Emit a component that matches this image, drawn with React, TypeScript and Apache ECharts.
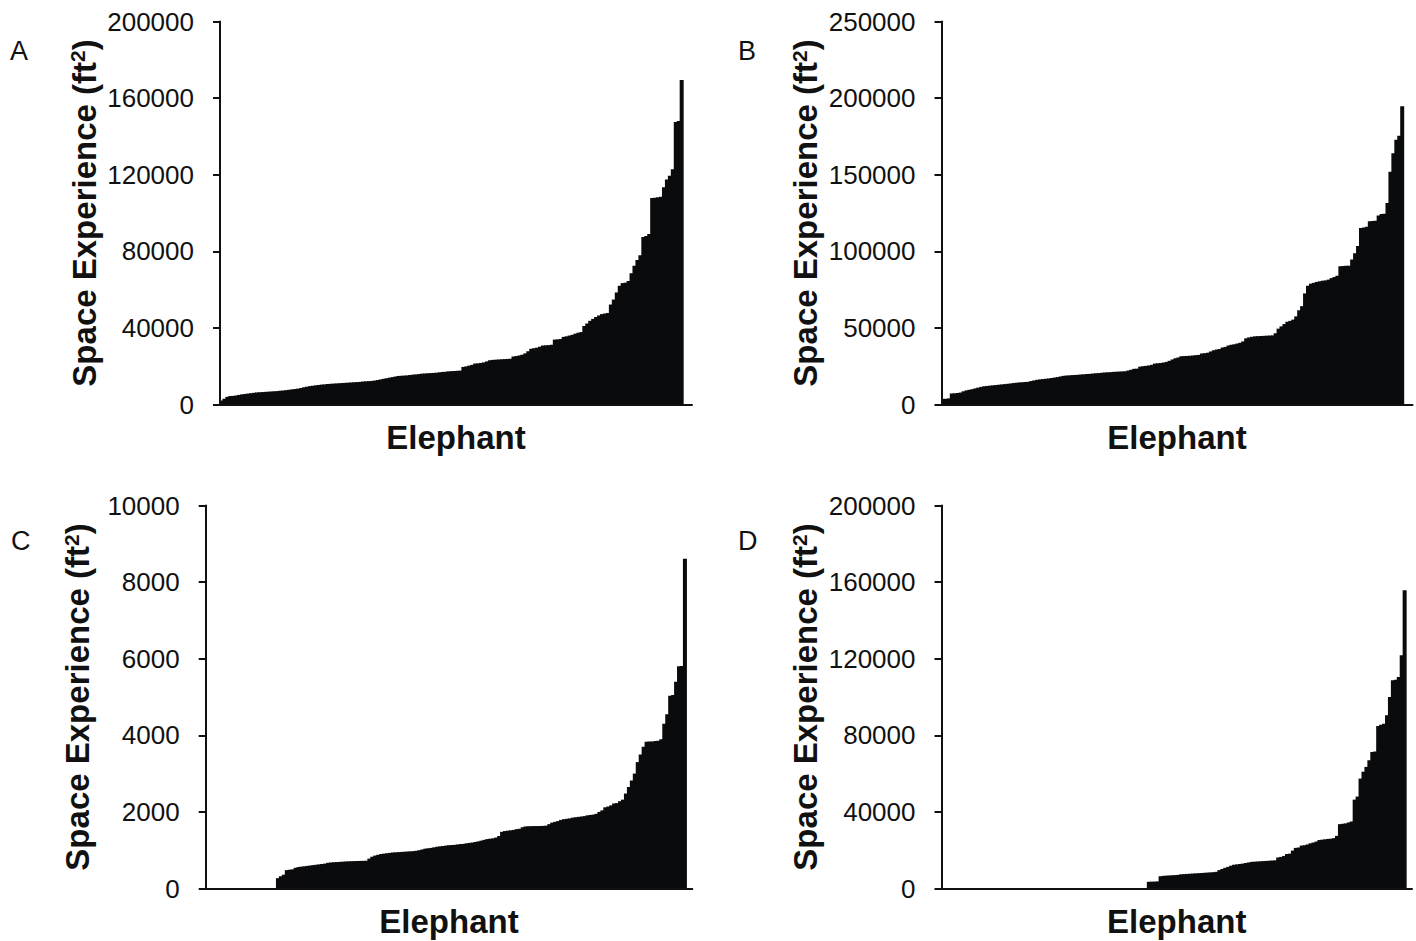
import React, { useEffect, useRef } from "react";
import * as echarts from "echarts";

// Panel A: sorted space experience per elephant (ft²)
const valuesA = [
  2100, 3000, 4000, 4400, 4500, 4700, 5000, 5300, 5500, 5700,
  5900, 6100, 6300, 6400, 6500, 6600, 6700, 6800, 6900, 7000,
  7200, 7300, 7500, 7700, 7900, 8100, 8300, 8600, 9000, 9300,
  9600, 9800, 10000, 10200, 10400, 10500, 10700, 10800, 10900, 11000,
  11100, 11200, 11300, 11400, 11500, 11600, 11700, 11800, 12000, 12100,
  12200, 12300, 12500, 12800, 13100, 13400, 13700, 14000, 14300, 14600,
  14900, 15000, 15100, 15200, 15400, 15600, 15700, 15900, 16100, 16200,
  16300, 16400, 16500, 16600, 16800, 17000, 17100, 17300, 17400, 17500,
  17600, 17700, 19600, 19900, 20300, 20700, 21400, 21500, 21700, 22000,
  22500, 23100, 23300, 23400, 23500, 23600, 23700, 23800, 23900, 25100,
  25300, 25600, 26000, 26700, 27800, 29100, 29400, 29700, 30200, 30800,
  30900, 31000, 31200, 33900, 34000, 34200, 35300, 35600, 36000, 36400,
  37000, 37500, 37800, 41000, 42300, 43700, 44700, 45700, 46500, 47200,
  47500, 47800, 52200, 54800, 58500, 62000, 63400, 63600, 64500, 68500,
  72500, 75500, 78000, 87500, 88000, 89000, 107800, 108000, 108200, 108500,
  113500, 117500, 119500, 122800, 147500, 148000, 169500,
];

// Panel B
const valuesB = [
  3700, 3700, 4000, 7200, 7300, 7500, 7800, 8600, 9200, 9600,
  10000, 10500, 11000, 11500, 11900, 12100, 12300, 12500, 12700, 12900,
  13100, 13300, 13500, 13700, 14000, 14200, 14400, 14500, 14700, 14800,
  15300, 15700, 16100, 16400, 16600, 16800, 17000, 17300, 17600, 17900,
  18300, 18700, 18900, 19000, 19200, 19300, 19400, 19600, 19700, 19900,
  20000, 20200, 20400, 20500, 20700, 20900, 21000, 21100, 21300, 21400,
  21500, 21600, 21700, 22200, 22700, 23300, 23400, 24700, 25000, 25200,
  25500, 25900, 26700, 26900, 27100, 27400, 27800, 28500, 29400, 30200,
  30700, 31500, 31600, 31700, 31800, 32000, 32200, 32400, 33300, 33500,
  33800, 34600, 35400, 35900, 36200, 37200, 37600, 38500, 39000, 39300,
  39800, 40300, 41200, 43200, 43800, 44200, 44500, 44600, 44700, 44800,
  44900, 45000, 45100, 46500, 49500, 51000, 52500, 54000, 54600, 55400,
  57500, 61500, 64200, 72500, 77500, 78900, 79400, 80000, 80400, 80800,
  81000, 81500, 82500, 83300, 84000, 90200, 90400, 90500, 90600, 94600,
  98800, 103500, 115200, 115500, 116000, 119600, 119700, 120000, 123300, 124300,
  124500, 131500, 152000, 164000, 172800, 175400, 194600,
];

// Panel C
const valuesC = [
  0, 0, 0, 0, 0, 0, 0, 0, 0, 0,
  0, 0, 0, 0, 0, 0, 0, 0, 0, 0,
  0, 0, 0, 0, 270, 320, 360, 480, 490, 500,
  540, 560, 570, 580, 590, 600, 610, 620, 630, 640,
  650, 670, 680, 685, 690, 695, 700, 705, 710, 712,
  715, 718, 720, 722, 725, 780, 830, 860, 880, 900,
  910, 920, 930, 940, 945, 950, 955, 960, 965, 970,
  975, 985, 1000, 1020, 1040, 1050, 1060, 1075, 1090, 1100,
  1110, 1120, 1130, 1135, 1140, 1150, 1160, 1165, 1180, 1190,
  1200, 1215, 1230, 1250, 1270, 1290, 1300, 1310, 1330, 1370,
  1480, 1500, 1510, 1520, 1530, 1550, 1560, 1600, 1620, 1625,
  1628, 1630, 1630, 1632, 1635, 1640, 1680, 1720, 1740, 1760,
  1790, 1810, 1820, 1830, 1850, 1860, 1870, 1880, 1890, 1910,
  1920, 1930, 1950, 2000, 2040, 2120, 2140, 2170, 2220, 2230,
  2280, 2320, 2480, 2650, 2820, 3000, 3300, 3500, 3700, 3830,
  3840, 3840, 3850, 3860, 3900, 4300, 4550, 5030, 5050, 5400,
  5800, 5810, 8610,
];

// Panel D
const valuesD = [
  0, 0, 0, 0, 0, 0, 0, 0, 0, 0,
  0, 0, 0, 0, 0, 0, 0, 0, 0, 0,
  0, 0, 0, 0, 0, 0, 0, 0, 0, 0,
  0, 0, 0, 0, 0, 0, 0, 0, 0, 0,
  0, 0, 0, 0, 0, 0, 0, 0, 0, 0,
  0, 0, 0, 0, 0, 0, 0, 0, 0, 0,
  0, 0, 0, 0, 0, 0, 0, 0, 0, 0,
  3500, 3550, 3600, 3700, 6400, 6600, 6700, 6800, 6900, 7000,
  7100, 7400, 7500, 7600, 7700, 7800, 7900, 8000, 8100, 8200,
  8300, 8400, 8500, 8700, 9600, 10200, 10800, 11300, 11900, 12400,
  12600, 12800, 13000, 13300, 13600, 13900, 14000, 14100, 14200, 14300,
  14400, 14500, 14600, 14700, 16200, 16500, 17000, 18000, 18200, 19800,
  21200, 21400, 22400, 22600, 23000, 23600, 24000, 24500, 25300, 25500,
  25700, 25900, 26000, 26300, 27500, 33600, 33800, 34000, 34500, 35000,
  46400, 48000, 57400, 61000, 63500, 67000, 71300, 71500, 84900, 85500,
  86000, 90500, 100000, 108800, 109000, 110500, 121800, 155700,
];

// Y-axis tick labels
const yTicksA = [0, 40000, 80000, 120000, 160000, 200000];
const yTicksB = [0, 50000, 100000, 150000, 200000, 250000];
const yTicksC = [0, 2000, 4000, 6000, 8000, 10000];
const yTicksD = [0, 40000, 80000, 120000, 160000, 200000];

// Number of elephant slots on each x axis
const slotCountA = 160;
const slotCountB = 160;
const slotCountC = 165;
const slotCountD = 160;

const panelLetters = ["A", "B", "C", "D"];
const yAxisTitle = "{a|Space Experience (ft}{s|2}{a|)}";
const xAxisTitle = "Elephant";

const FONT = "Liberation Sans, Arial, Helvetica, sans-serif";
const INK = "#111111";
const BAR = "#0a0b0d";

export default function App() {
  const ref = useRef<HTMLDivElement>(null);

  useEffect(() => {
    document.body.style.margin = "0";
    if (!ref.current) return;
    const chart = echarts.init(ref.current, undefined, { renderer: "svg" });

    const panels = [
      { values: valuesA, ticks: yTicksA, slots: slotCountA, grid: { left: 220, top: 21.5, width: 472, height: 383 }, nameGap: 119 },
      { values: valuesB, ticks: yTicksB, slots: slotCountB, grid: { left: 941.5, top: 21.5, width: 471, height: 383 }, nameGap: 119 },
      { values: valuesC, ticks: yTicksC, slots: slotCountC, grid: { left: 205.7, top: 505.5, width: 486.6, height: 383 }, nameGap: 111 },
      { values: valuesD, ticks: yTicksD, slots: slotCountD, grid: { left: 941.5, top: 505.5, width: 470.5, height: 383 }, nameGap: 119 },
    ];

    const grids = panels.map((p) => ({ ...p.grid, containLabel: false }));
    const xAxes = panels.map((p, i) => ({
      type: "category",
      gridIndex: i,
      data: Array.from({ length: p.slots }, (_, k) => String(k + 1)),
      boundaryGap: true,
      axisLine: { show: true, lineStyle: { color: INK, width: 2 } },
      axisTick: { show: false },
      axisLabel: { show: false },
      splitLine: { show: false },
      name: xAxisTitle,
      nameLocation: "middle",
      nameGap: 16,
      nameTextStyle: { fontFamily: FONT, fontSize: 33, fontWeight: "bold", color: INK, verticalAlign: "top" },
      z: 3,
    }));
    const yAxes = panels.map((p, i) => ({
      type: "value",
      gridIndex: i,
      min: p.ticks[0],
      max: p.ticks[p.ticks.length - 1],
      interval: p.ticks[1] - p.ticks[0],
      axisLine: { show: true, lineStyle: { color: INK, width: 2 } },
      axisTick: { show: true, length: 7, lineStyle: { color: INK, width: 2 } },
      axisLabel: {
        fontFamily: FONT,
        fontSize: 26,
        color: INK,
        margin: 26,
        formatter: (v: number) => String(v),
      },
      splitLine: { show: false },
      name: yAxisTitle,
      nameLocation: "middle",
      nameRotate: 90,
      nameGap: p.nameGap,
      nameTextStyle: {
        color: INK,
        rich: {
          a: { fontFamily: FONT, fontSize: 33, fontWeight: "bold", color: INK },
          s: { fontFamily: FONT, fontSize: 21, fontWeight: "bold", color: INK, padding: [0, 0, 13, 0] },
        },
      },
      z: 3,
    }));
    const series = panels.map((p, i) => ({
      type: "bar",
      xAxisIndex: i,
      yAxisIndex: i,
      data: p.values,
      barWidth: 4,
      barGap: "-100%",
      itemStyle: { color: BAR },
      emphasis: { disabled: true },
      silent: true,
    }));

    const letterPos = [
      { left: 10, top: 37 },
      { left: 738, top: 37 },
      { left: 11, top: 527 },
      { left: 738, top: 527 },
    ];
    const graphic = panelLetters.map((t, i) => ({
      type: "text",
      left: letterPos[i].left,
      top: letterPos[i].top,
      style: { text: t, fontFamily: FONT, fontSize: 27, fill: INK },
    }));

    chart.setOption({
      animation: false,
      backgroundColor: "#ffffff",
      grid: grids,
      xAxis: xAxes,
      yAxis: yAxes,
      series,
      graphic,
    });

    return () => chart.dispose();
  }, []);

  return <div ref={ref} style={{ width: 1416, height: 941 }} />;
}
